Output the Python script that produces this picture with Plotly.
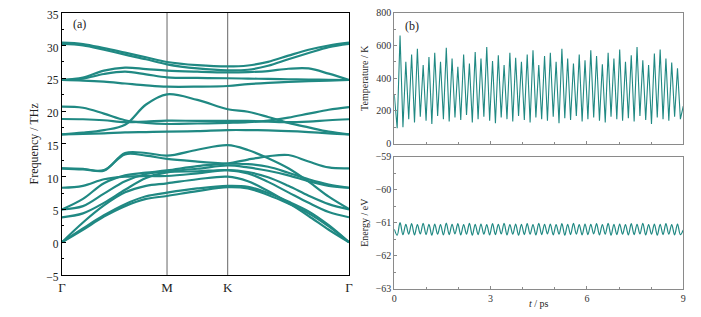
import numpy as np
from plotly import graph_objects as go

# phonon path: Gamma - M - K - Gamma (hexagonal, |GM|:|MK|:|KG| = 0.866:0.5:1)
kpts = [0.0, 0.173, 0.346, 0.520, 0.693, 0.866, 1.116, 1.366,
        1.533, 1.699, 1.866, 2.033, 2.199, 2.366]
hs_pos = [0.0, 0.866, 1.366, 2.366]
hs_labels = ["Γ", "M", "K", "Γ"]

# upper optical branches (THz)
band_u1 = [30.45, 30.23, 29.6, 28.9, 28.2, 27.48, 27.0, 26.8, 26.95, 27.5, 28.45, 29.35, 30.0, 30.43]
band_u2 = [30.25, 30.03, 29.35, 28.6, 27.9, 27.13, 26.5, 26.2, 26.3, 26.9, 27.9, 28.85, 29.75, 30.25]
band_u3 = [24.74, 25.1, 26.16, 26.62, 26.4, 26.16, 26.0, 25.9, 25.95, 26.1, 26.45, 26.5, 25.7, 24.74]
band_u4 = [24.74, 24.94, 25.65, 26.0, 25.6, 25.14, 25.05, 25.0, 24.95, 24.9, 24.85, 24.8, 24.76, 24.74]
band_u5 = [24.74, 24.65, 24.48, 24.2, 23.92, 23.72, 23.72, 23.82, 24.1, 24.3, 24.45, 24.55, 24.65, 24.74]
# middle branches
band_m1 = [16.45, 16.7, 17.1, 17.9, 21.0, 22.55, 21.7, 20.27, 19.9, 19.1, 18.2, 17.5, 16.85, 16.45]
band_m2 = [20.67, 20.5, 19.6, 18.6, 18.2, 18.03, 18.1, 18.2, 18.3, 18.55, 19.0, 19.6, 20.2, 20.6]
band_m3 = [18.79, 18.75, 18.6, 18.3, 18.4, 18.53, 18.5, 18.5, 18.5, 18.4, 18.3, 18.4, 18.6, 18.75]
band_m4 = [16.45, 16.5, 16.6, 16.75, 16.8, 16.85, 16.95, 17.1, 17.1, 17.05, 16.95, 16.8, 16.6, 16.45]
# acoustic + low optical branches
band_l1 = [0.0, 1.9, 3.9, 5.5, 6.6, 7.05, 7.8, 8.4, 8.2, 7.2, 5.9, 4.4, 2.4, 0.0]
band_l2 = [0.0, 2.1, 4.1, 5.8, 7.0, 7.55, 8.2, 8.6, 8.45, 7.5, 6.2, 4.7, 2.6, 0.0]
band_l3 = [0.0, 3.0, 5.6, 7.6, 8.6, 8.98, 9.6, 10.0, 9.3, 7.8, 6.0, 4.0, 1.9, 0.0]
band_l4 = [3.8, 4.4, 6.0, 8.0, 9.8, 10.65, 10.8, 11.0, 10.5, 9.2, 7.6, 6.0, 4.6, 3.8]
band_l5 = [5.0, 5.5, 7.4, 9.3, 10.4, 10.8, 11.2, 11.7, 11.4, 10.9, 10.2, 9.3, 8.6, 8.3]
band_l6 = [5.0, 6.6, 9.0, 10.2, 10.6, 10.95, 11.6, 12.0, 12.6, 13.1, 13.3, 12.3, 11.4, 11.27]
band_l7 = [8.3, 8.6, 9.6, 10.0, 10.1, 10.1, 10.5, 11.0, 10.7, 9.9, 8.6, 7.1, 5.8, 5.0]
band_l8 = [11.27, 11.2, 10.9, 13.6, 13.6, 13.2, 14.1, 14.8, 14.06, 12.8, 11.27, 9.23, 6.94, 5.06]
band_l9 = [11.27, 11.1, 11.0, 13.4, 13.2, 12.7, 12.3, 12.0, 11.9, 11.5, 10.6, 9.6, 8.8, 8.3]

bands = [band_u1, band_u2, band_u3, band_u4, band_u5,
         band_m1, band_m2, band_m3, band_m4,
         band_l1, band_l2, band_l3, band_l4, band_l5, band_l6, band_l7, band_l8, band_l9]

# AIMD trajectory, 9 ps
temperature_K = [
    300,
    95, 660, 100, 500, 150, 545, 130, 580, 165, 480, 140, 530, 120, 555, 170, 500,
    150, 585, 135, 520, 160, 470, 145, 545, 175, 490, 130, 560, 150, 520, 165, 590,
    140, 505, 125, 540, 160, 480, 150, 555, 135, 525, 170, 500, 145, 545, 130, 570,
    160, 480, 150, 535, 140, 555, 165, 500, 125, 580, 155, 520, 145, 490, 170, 545,
    135, 510, 150, 570, 160, 535, 140, 485, 130, 555, 165, 520, 150, 575, 140, 500,
    155, 540, 135, 590, 170, 510, 145, 480, 120, 550, 160, 575, 150, 520, 140, 495,
    165, 460, 150, 230,
]
energy_eV = [
    -61.20,
    -61.38, -61.00, -61.36, -61.05, -61.35, -61.03, -61.37, -61.06, -61.34, -61.02,
    -61.36, -61.05, -61.38, -61.04, -61.35, -61.06, -61.37, -61.01, -61.36, -61.05,
    -61.34, -61.03, -61.37, -61.06, -61.35, -61.02, -61.38, -61.05, -61.36, -61.04,
    -61.35, -61.06, -61.37, -61.03, -61.36, -61.05, -61.34, -61.02, -61.37, -61.06,
    -61.35, -61.04, -61.38, -61.05, -61.36, -61.03, -61.35, -61.06, -61.37, -61.02,
    -61.36, -61.05, -61.34, -61.04, -61.37, -61.06, -61.35, -61.03, -61.38, -61.05,
    -61.36, -61.02, -61.35, -61.06, -61.37, -61.04, -61.36, -61.05, -61.34, -61.03,
    -61.37, -61.06, -61.35, -61.02, -61.38, -61.05, -61.36, -61.04, -61.35, -61.06,
    -61.37, -61.03, -61.36, -61.05, -61.34, -61.02, -61.37, -61.06, -61.35, -61.04,
    -61.38, -61.05, -61.36, -61.03, -61.35, -61.06, -61.37, -61.04, -61.36, -61.22,
]
time_ps = np.linspace(0, 9, len(temperature_K))

TEAL = "rgb(32,137,131)"
FONT = "Times New Roman, Liberation Serif, DejaVu Serif, serif"

fig = go.Figure()

for band in bands:
    fig.add_trace(go.Scatter(
        x=kpts, y=band, mode="lines", line=dict(color=TEAL, width=2.2, shape="spline"),
        xaxis="x", yaxis="y", showlegend=False, hoverinfo="skip"))

for pos in hs_pos[1:-1]:
    fig.add_shape(type="line", xref="x", yref="y domain", x0=pos, x1=pos, y0=0, y1=1,
                  line=dict(color="#666666", width=1), layer="below")

fig.add_trace(go.Scatter(x=time_ps, y=temperature_K, mode="lines",
                         line=dict(color=TEAL, width=1.1), xaxis="x2", yaxis="y2",
                         showlegend=False))
fig.add_trace(go.Scatter(x=time_ps, y=energy_eV, mode="lines",
                         line=dict(color=TEAL, width=1.2, shape="spline"),
                         xaxis="x3", yaxis="y3", showlegend=False))

grey_axis = dict(showline=True, linecolor="#8a8a8a", linewidth=1, mirror=True,
                 showgrid=False, zeroline=False, ticks="inside", ticklen=3,
                 tickcolor="#8a8a8a", ticklabeloverflow="allow",
                 tickfont=dict(family=FONT, size=10, color="#333"))

# the page body adds an 8 px margin, so the figure is sized to fit inside it
fig.update_layout(
    width=685, height=301,
    margin=dict(l=0, r=0, t=0, b=0),
    paper_bgcolor="white", plot_bgcolor="white",
    font=dict(family=FONT, color="#222"),
    xaxis=dict(domain=[0.0788, 0.4978], range=[0, 2.366], tickvals=hs_pos,
               ticktext=hs_labels, ticks="", showline=True, linecolor="black",
               linewidth=1.2, mirror=True, showgrid=False, zeroline=False,
               tickfont=dict(family=FONT, size=13), automargin=False),
    yaxis=dict(domain=[0.1130, 0.9844], range=[-5, 35], dtick=5, ticks="inside",
               ticklen=4, tickcolor="black", showline=True, linecolor="black",
               linewidth=1.2, mirror=True, showgrid=False, zeroline=False,
               minor=dict(dtick=2.5, ticks="inside", ticklen=2, tickcolor="black"),
               tickfont=dict(family=FONT, size=11.5), automargin=False,
               ticklabeloverflow="allow", ticklabelshift=2,
               title=dict(text="Frequency / THz", font=dict(family=FONT, size=12), standoff=5)),
    xaxis2=dict(grey_axis, domain=[0.5639, 0.9858], range=[0, 9], anchor="y2",
                dtick=3, showticklabels=False, minor=dict(dtick=1, ticks="inside", ticklen=2,
                                                          tickcolor="#8a8a8a"),
                automargin=False),
    yaxis2=dict(grey_axis, domain=[0.5492, 0.9844], range=[0, 800], dtick=200, anchor="x2",
                minor=dict(dtick=100, ticks="inside", ticklen=2, tickcolor="#8a8a8a"),
                automargin=False,
                title=dict(text="Temperature / K", font=dict(family=FONT, size=10), standoff=5)),
    xaxis3=dict(grey_axis, domain=[0.5639, 0.9858], range=[0, 9], anchor="y3",
                dtick=3, minor=dict(dtick=1, ticks="inside", ticklen=2, tickcolor="#8a8a8a"),
                automargin=False,
                title=dict(text="<i>t</i> / ps", font=dict(family=FONT, size=10), standoff=1)),
    yaxis3=dict(grey_axis, domain=[0.0674, 0.5060], range=[-63, -59], dtick=1, anchor="x3",
                minor=dict(dtick=0.5, ticks="inside", ticklen=2, tickcolor="#8a8a8a"),
                automargin=False,
                title=dict(text="Energy / eV", font=dict(family=FONT, size=10), standoff=5)),
    annotations=[
        dict(text="(a)", xref="x domain", yref="y domain", x=0.03, y=0.99,
             xanchor="left", yanchor="top", showarrow=False, font=dict(family=FONT, size=12)),
        dict(text="(b)", xref="x2 domain", yref="y2 domain", x=0.03, y=0.97,
             xanchor="left", yanchor="top", showarrow=False, font=dict(family=FONT, size=12)),
    ],
)

fig.write_html("out.html")
